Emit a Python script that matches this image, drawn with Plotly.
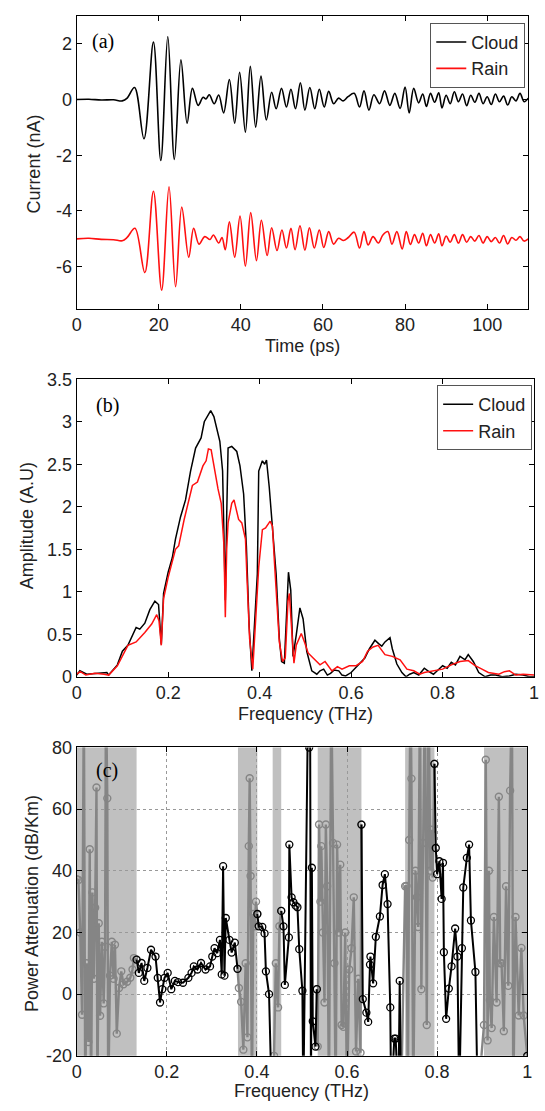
import plotly.graph_objects as go

# ---------------- Panel (a): time-domain waveforms ----------------
cloud_time_ps = [0, 3, 6, 9, 11.1, 12.3, 14.1, 16.4, 18.7, 20.5, 22.2, 23.8, 25.4, 26.9, 28.2, 29.6,
                 30.8, 31.5, 32.3, 33.5, 34.6, 35.8, 37.2, 38.5, 39.7, 41.1, 42.3, 43.6, 44.9, 46.2,
                 47.5, 48.6, 49.9, 51.1, 52.2, 53.3, 54.5, 55.6, 56.8, 58.0, 59.1, 60.3, 61.4, 62.6,
                 63.8, 64.9, 66.1, 67.6, 68.9, 70.0, 71.2, 72.4, 73.8, 75.0, 76.3, 77.5, 78.8, 80.0,
                 81.0, 82.1, 83.3, 84.3, 85.2, 86.2, 87.2, 88.2, 89.0, 90.0, 91.0, 92.0, 93.0, 94.0,
                 95.0, 96.0, 97.0, 98.0, 99.0, 100.0, 101.0, 102.0, 103.0, 104.0, 105.0, 106.0,
                 107.0, 108.0, 109.0, 110.0]
cloud_current_nA = [0.0, 0.01, -0.02, -0.01, -0.05, 0.05, 0.43, -1.41, 2.06, -2.19, 2.26, -2.15, 1.42, -0.85,
                    0.40, -0.21, 0.08, 0.02, 0.17, -0.15, 0.16, -0.48, 0.72, -0.85, 0.98, -1.17, 1.19, -0.99,
                    0.84, -0.73, 0.26, -0.33, 0.40, -0.27, 0.37, -0.33, 0.60, -0.38, 0.43, -0.33, 0.37, -0.27,
                    0.29, -0.15, 0.05, -0.05, 0.10, 0.22, -0.27, 0.31, -0.38, 0.17, -0.15, 0.31, -0.21, 0.22,
                    -0.32, 0.45, -0.48, 0.40, -0.12, 0.20, -0.25, 0.22, -0.10, 0.24, -0.30, 0.15, -0.15, 0.28,
                    -0.08, 0.20, -0.22, 0.15, -0.10, 0.22, -0.15, 0.10, -0.18, 0.20, -0.08, 0.12, -0.20, 0.10,
                    -0.05, 0.22, -0.08, 0.05]

rain_time_ps = [0, 3, 6, 9, 11.1, 12.3, 14.2, 16.6, 18.7, 20.7, 22.5, 24.1, 25.6, 27.3, 28.5, 29.8,
                31.2, 32.5, 33.3, 34.6, 35.4, 36.2, 37.2, 38.5, 39.8, 41.1, 42.4, 43.8, 45.0, 46.4,
                47.5, 48.8, 50.0, 51.1, 52.2, 53.2, 54.4, 55.6, 56.7, 57.9, 59.1, 60.2, 61.4, 62.6,
                63.8, 65.0, 66.1, 67.6, 68.9, 70.0, 71.0, 72.2, 73.5, 74.6, 75.8, 76.8, 78.0, 79.3,
                80.3, 81.3, 82.3, 83.3, 84.3, 85.2, 86.2, 87.2, 88.2, 89.0, 90.0, 91.0, 92.0, 93.0,
                94.0, 95.0, 96.0, 97.0, 98.0, 99.0, 100.0, 101.0, 102.0, 103.0, 104.0, 105.0, 106.0,
                107.0, 108.0, 109.0, 110.0]
rain_current_nA = [-5.0, -4.98, -5.02, -5.03, -5.07, -4.95, -4.62, -6.21, -3.29, -6.84, -3.13, -6.72, -3.86,
                   -5.66, -4.62, -5.19, -4.92, -5.02, -4.86, -5.15, -4.95, -5.39, -4.39, -5.66, -4.18, -5.98,
                   -4.06, -5.78, -4.33, -5.60, -4.60, -5.42, -4.68, -5.33, -4.62, -5.39, -4.53, -5.41, -4.60,
                   -5.33, -4.68, -5.31, -4.74, -5.19, -4.98, -5.06, -4.96, -4.76, -5.33, -4.74, -5.22, -4.92,
                   -5.15, -4.86, -4.74, -5.19, -4.74, -5.36, -4.74, -5.20, -4.85, -5.15, -4.80, -5.25, -4.85,
                   -5.15, -4.82, -5.25, -4.90, -5.12, -4.85, -5.15, -4.85, -5.12, -4.92, -5.08, -4.88, -5.15,
                   -4.92, -5.10, -4.95, -5.15, -4.88, -5.18, -4.95, -5.05, -4.92, -5.08, -5.0]

# ---------------- Panel (b): spectra ----------------
cloud_freq_THz = [0, 0.007, 0.022, 0.045, 0.066, 0.07, 0.089, 0.1, 0.112, 0.13, 0.138, 0.149, 0.16, 0.171,
                  0.179, 0.185, 0.19, 0.2, 0.209, 0.216, 0.227, 0.238, 0.249, 0.26, 0.272, 0.279, 0.287,
                  0.293, 0.3, 0.307, 0.313, 0.319, 0.322, 0.325, 0.328, 0.331, 0.339, 0.35, 0.357, 0.365,
                  0.371, 0.377, 0.383, 0.389, 0.395, 0.398, 0.406, 0.411, 0.415, 0.421, 0.428, 0.436, 0.443,
                  0.448, 0.454, 0.46, 0.463, 0.468, 0.473, 0.48, 0.488, 0.495, 0.503, 0.514, 0.525, 0.532,
                  0.54, 0.548, 0.555, 0.563, 0.573, 0.58, 0.588, 0.6, 0.61, 0.63, 0.64, 0.652, 0.66, 0.667,
                  0.674, 0.685, 0.69, 0.7, 0.711, 0.72, 0.728, 0.737, 0.748, 0.76, 0.77, 0.78, 0.79, 0.8,
                  0.81, 0.819, 0.828, 0.838, 0.849, 0.856, 0.867, 0.879, 0.893, 0.905, 0.916, 0.93, 0.946,
                  0.96, 0.976, 0.99, 1.0]
cloud_amplitude = [0.02, 0.07, 0.03, 0.04, 0.05, 0.02, 0.14, 0.30, 0.37, 0.58, 0.56, 0.63, 0.79, 0.89,
                   0.85, 0.38, 0.98, 1.23, 1.40, 1.62, 1.88, 2.08, 2.42, 2.69, 2.81, 3.00, 3.08,
                   3.13, 3.06, 2.92, 2.77, 2.42, 1.80, 0.90, 1.90, 2.69, 2.71, 2.65, 2.48, 2.15,
                   1.54, 0.60, 0.07, 0.60, 1.21, 2.42, 2.54, 2.50, 2.55, 2.23, 1.73, 1.21, 0.45,
                   0.18, 0.16, 0.83, 1.23, 1.02, 0.24, 0.49, 0.81, 0.68, 0.30, 0.07, 0.03, 0.07,
                   0.09, 0.02, 0.04, 0.08, 0.07, 0.02, 0.01, 0.05, 0.11, 0.22, 0.33, 0.43, 0.39, 0.36,
                   0.41, 0.46, 0.33, 0.15, 0.05, 0.0, 0.03, 0.05, 0.02, 0.10, 0.06, 0.03, 0.08, 0.13,
                   0.10, 0.17, 0.14, 0.24, 0.20, 0.26, 0.18, 0.05, 0.0, 0.02, 0.02, 0.0, 0.01,
                   0.03, 0.02, 0.0, 0.0]

rain_freq_THz = [0, 0.008, 0.02, 0.04, 0.06, 0.07, 0.089, 0.112, 0.13, 0.149, 0.164, 0.175, 0.18, 0.185,
                 0.19, 0.2, 0.216, 0.223, 0.235, 0.246, 0.253, 0.264, 0.276, 0.283, 0.288, 0.294, 0.302,
                 0.309, 0.316, 0.322, 0.325, 0.328, 0.331, 0.339, 0.344, 0.354, 0.361, 0.369, 0.372, 0.378,
                 0.385, 0.391, 0.398, 0.406, 0.413, 0.423, 0.428, 0.432, 0.436, 0.443, 0.45, 0.456, 0.462,
                 0.465, 0.469, 0.475, 0.48, 0.491, 0.498, 0.506, 0.517, 0.532, 0.543, 0.558, 0.57, 0.58,
                 0.596, 0.611, 0.625, 0.636, 0.648, 0.659, 0.674, 0.69, 0.707, 0.722, 0.737, 0.75, 0.76,
                 0.782, 0.8, 0.819, 0.838, 0.856, 0.871, 0.886, 0.9, 0.923, 0.935, 0.946, 0.96, 0.976, 1.0]
rain_amplitude = [0.03, 0.06, 0.02, 0.04, 0.03, 0.02, 0.13, 0.37, 0.41, 0.52, 0.62, 0.73, 0.66, 0.37,
                  0.92, 1.17, 1.50, 1.54, 1.85, 2.08, 2.25, 2.29, 2.48, 2.54, 2.68, 2.67, 2.42,
                  2.21, 2.04, 1.54, 0.70, 1.50, 1.81, 2.04, 2.08, 1.85, 1.81, 1.62, 1.21, 0.45,
                  0.09, 0.64, 1.29, 1.73, 1.75, 1.83, 1.77, 1.38, 1.02, 0.41, 0.18, 0.22, 0.89,
                  0.98, 0.64, 0.16, 0.37, 0.51, 0.41, 0.28, 0.22, 0.14, 0.18, 0.07, 0.12, 0.09,
                  0.13, 0.13, 0.18, 0.30, 0.35, 0.37, 0.26, 0.24, 0.20, 0.09, 0.07, 0.03, 0.05,
                  0.07, 0.09, 0.14, 0.18, 0.19, 0.13, 0.09, 0.05, 0.03, 0.06, 0.07, 0.02, 0.03, 0.02]

# ---------------- Panel (c): power attenuation ----------------
# values beyond the axis range (-35 / 100) mark traces running off the plot
atten_black_freq = [0.133, 0.138, 0.144, 0.15, 0.157, 0.165, 0.175, 0.18, 0.185, 0.19, 0.195, 0.202, 0.21,
                    0.218, 0.225, 0.236, 0.248, 0.255, 0.26, 0.268, 0.276, 0.286, 0.296, 0.301, 0.306,
                    0.312, 0.318, 0.322, 0.325, 0.328, 0.331, 0.339, 0.344, 0.351, 0.357, None,
                    0.401, 0.404, 0.412, 0.417, 0.42, 0.427, 0.433, None,
                    0.454, 0.459, 0.462, 0.471, 0.472, 0.477, 0.481, 0.486, 0.49, 0.494, 0.501, 0.503,
                    0.514, 0.516, 0.518, 0.52, 0.522, 0.524, 0.53, 0.533, None,
                    0.632, 0.635, 0.643, 0.647, 0.651, 0.652, 0.658, 0.664, 0.673, 0.679, 0.684, 0.69,
                    0.696, 0.698, 0.705, 0.708, 0.714, 0.717, 0.72, None,
                    0.794, 0.797, 0.8, 0.805, 0.81, 0.813, 0.815, 0.82, 0.826, 0.832, 0.84, 0.845, 0.849,
                    0.855, 0.858, 0.866, 0.871, 0.875, 0.885, 0.89, None, 1.0]
atten_black_dB = [11.2, 6.9, 10.1, 4.3, 8.5, 14.4, 12.2, 5.3, -2.7, 1.6, 5.3, 6.9, 1.6,
                  4.3, 3.9, 3.7, 5.3, 6.9, 9.0, 8.0, 10.1, 8.0, 9.0, 12.2, 14.9,
                  13.3, 17.6, 6.4, 41.5, 6.0, 24.7, 17.6, 13.5, 16.7, 8.2, None,
                  26.0, 22.0, 21.8, 19.7, 7.4, 0.0, -35, None,
                  27.0, 22.0, 3.0, 18.4, 48.5, 31.4, 29.8, 28.7, 28.2, 14.6, 1.1, -35,
                  100, 80, 100, -35, 41, -8.8, -17, 1.6, None,
                  55, -1.6, -6, -9, 9.6, 12.2, 3.5, 18.6, 25.2, 35.4, 38.9, 29.2,
                  -4.3, -35, -14.4, -14.4, -35, 4.3, -35, None,
                  74.7, 47.4, 38.9, 43.1, 30.9, 42.6, 13.6, -8, 1.8, 9.0, 21.3, 12.2, -35,
                  14.9, 34.6, 44.2, 48.5, 23.9, 7.2, -35, None, -20]

atten_gray_freq = [0.0, 0.004, 0.008, 0.012, 0.016, 0.019, 0.022, 0.026, 0.029, 0.032, 0.035, 0.038, 0.041,
                   0.044, 0.046, 0.049, 0.052, 0.056, 0.06, 0.063, 0.065, 0.068, 0.07, 0.074, 0.078, 0.082,
                   0.085, 0.089, 0.094, 0.099, 0.104, 0.112, 0.119, 0.124, 0.127, 0.133, None,
                   0.357, 0.36, 0.365, 0.37, 0.375, 0.379, 0.382, 0.384, 0.386, 0.389, 0.392, 0.395, 0.398,
                   0.401, None,
                   0.433, 0.438, 0.442, 0.447, 0.45, 0.454, None,
                   0.533, 0.535, 0.538, 0.541, 0.543, 0.546, 0.55, 0.553, 0.556, 0.56, 0.565, 0.569, 0.572,
                   0.575, 0.578, 0.582, 0.585, 0.588, 0.592, 0.596, 0.6, 0.605, 0.61, 0.615, 0.62, 0.625,
                   0.63, 0.632, None,
                   0.72, 0.729, 0.732, 0.735, 0.738, 0.741, 0.743, 0.747, 0.752, 0.755, 0.758, 0.762, 0.765,
                   0.769, 0.773, 0.777, 0.781, 0.785, 0.788, 0.79, 0.794, None,
                   0.89, 0.904, 0.908, 0.912, 0.915, 0.917, 0.921, 0.926, 0.932, 0.937, 0.94, 0.943, 0.948,
                   0.953, 0.958, 0.962, 0.966, 0.969, 0.974, 0.981, 0.987, 0.992, 1.0]
atten_gray_dB = [37.3, 37.0, 20, -6.7, 100, -35, 10, -15.5, 47, -35, 33, 5, 28,
                 67, -35, 23, -7, 17, -3, 15.4, 100, 63.5, -35, 6, 17, 5,
                 16, -12.8, 2, 7.4, 3.2, 4, 5.3, 8, 11.7, 11.2, None,
                 8.2, 2, -2.5, -18, 10, -14, 48, 70, 38.3, -35, 26, 22, 30,
                 26.0, None,
                 -35, -20, 10, -4.3, 22, 27, None,
                 1.6, -17, 55, 30, 48, 20, -2.7, 55, 35, -35, 100, 49, 10,
                 -35, 48.5, 20, 42, -10, -10.6, 20, -35, 8, 14.9, 31.4, -18.6, 5,
                 -19, 55, None,
                 -35, 35, 35.1, -35, 50, 100, 69.9, -35, 40, 31.4, 21.8, 100, 1.6,
                 49, 100, -10, 100, 40, 53.3, 37.8, 74.7, None,
                 -35, -10, 76, -15, 40, -2, -11, 25, -2.7, 64, 10, 10, -12,
                 35, 2.7, 66, 100, -35, 25, -6.9, 15, -6.9, -20]

shaded_bands_THz = [(0.0, 0.133), (0.358, 0.401), (0.435, 0.454), (0.535, 0.632), (0.729, 0.794), (0.904, 1.0)]

# tick labels
a_xticks = [0, 20, 40, 60, 80, 100]
a_yticks = [-6, -4, -2, 0, 2]
a_yticklabels = ["-6", "-4", "-2", "0", "2"]
f_ticks = [0, 0.2, 0.4, 0.6, 0.8, 1]
f_ticklabels = ["0", "0.2", "0.4", "0.6", "0.8", "1"]
b_yticks = [0, 0.5, 1, 1.5, 2, 2.5, 3, 3.5]
b_yticklabels = ["0", "0.5", "1", "1.5", "2", "2.5", "3", "3.5"]
c_yticks = [-20, 0, 20, 40, 60, 80]
c_yticklabels = ["-20", "0", "20", "40", "60", "80"]

W, H = 545, 1111
FONT = "Liberation Sans, Arial, sans-serif"
SERIF = "Liberation Serif, Times New Roman, serif"
RED = "#ff1010"
TXT = "#222"
FS = 18

fig = go.Figure()

fig.add_trace(go.Scatter(x=cloud_time_ps, y=cloud_current_nA, name="Cloud", mode="lines",
                         line=dict(color="black", width=1.6, shape="spline", smoothing=1.0),
                         xaxis="x", yaxis="y", legend="legend"))
fig.add_trace(go.Scatter(x=rain_time_ps, y=rain_current_nA, name="Rain", mode="lines",
                         line=dict(color=RED, width=1.6, shape="spline", smoothing=1.0),
                         xaxis="x", yaxis="y", legend="legend"))

fig.add_trace(go.Scatter(x=cloud_freq_THz, y=cloud_amplitude, name="Cloud", mode="lines",
                         line=dict(color="black", width=1.5), xaxis="x2", yaxis="y2", legend="legend2"))
fig.add_trace(go.Scatter(x=rain_freq_THz, y=rain_amplitude, name="Rain", mode="lines",
                         line=dict(color=RED, width=1.5), xaxis="x2", yaxis="y2", legend="legend2"))

fig.add_trace(go.Scatter(x=atten_gray_freq, y=atten_gray_dB, mode="lines+markers", showlegend=False,
                         line=dict(color="#858585", width=2.4),
                         marker=dict(symbol="circle-open", size=7, color="#858585", line=dict(width=1.4)),
                         xaxis="x3", yaxis="y3"))
fig.add_trace(go.Scatter(x=atten_black_freq, y=atten_black_dB, mode="lines+markers", showlegend=False,
                         line=dict(color="black", width=2),
                         marker=dict(symbol="circle-open", size=7, color="black", line=dict(width=1.3)),
                         xaxis="x3", yaxis="y3"))

shapes = []
for x0, x1 in shaded_bands_THz:
    shapes.append(dict(type="rect", xref="x3", yref="y3 domain", x0=x0, x1=x1, y0=0, y1=1,
                       fillcolor="#c0c0c0", line=dict(width=0), layer="below"))

def xd(px):
    return px / W

def yd(py):
    return 1 - py / H

axis_common = dict(showline=True, linecolor="black", linewidth=1, mirror="ticks", ticks="inside",
                   ticklen=5, tickcolor="black", showgrid=False, zeroline=False,
                   tickfont=dict(family=FONT, size=FS, color=TXT))
title_font = dict(family=FONT, size=FS, color=TXT)
legend_font = dict(family=FONT, size=FS, color=TXT)

def label(text, px, py, angle=0, font=title_font):
    return dict(text=text, x=xd(px), y=yd(py), xref="paper", yref="paper", showarrow=False,
                textangle=angle, xanchor="center", yanchor="middle", font=font)

serif_font = dict(family=SERIF, size=20, color="black")

fig.update_layout(
    width=W, height=H, margin=dict(l=0, r=0, t=0, b=0),
    paper_bgcolor="white", plot_bgcolor="white",
    font=dict(family=FONT, size=FS, color=TXT),
    shapes=shapes,
    xaxis=dict(axis_common, domain=[xd(73), xd(533)], anchor="y", range=[0, 110], tickvals=a_xticks),
    yaxis=dict(axis_common, domain=[yd(304), yd(6)], anchor="x", range=[-7.5, 3],
               tickvals=a_yticks, ticktext=a_yticklabels),
    xaxis2=dict(axis_common, domain=[xd(73), xd(539)], anchor="y2", range=[0, 1],
                tickvals=f_ticks, ticktext=f_ticklabels),
    yaxis2=dict(axis_common, domain=[yd(679), yd(376)], anchor="x2", range=[0, 3.5],
                tickvals=b_yticks, ticktext=b_yticklabels),
    xaxis3=dict(axis_common, domain=[xd(73), xd(532)], anchor="y3", range=[0, 1],
                tickvals=f_ticks, ticktext=f_ticklabels, showgrid=True, gridcolor="#999",
                griddash="dot", gridwidth=1),
    yaxis3=dict(axis_common, domain=[yd(1065), yd(751)], anchor="x3", range=[-20, 80],
                tickvals=c_yticks, ticktext=c_yticklabels, showgrid=True, gridcolor="#999",
                griddash="dot", gridwidth=1),
    legend=dict(x=xd(530), xanchor="right", y=yd(13), yanchor="top", bgcolor="white",
                bordercolor="#555", borderwidth=1, font=legend_font,
                tracegroupgap=0, itemwidth=30),
    legend2=dict(x=xd(537), xanchor="right", y=yd(382), yanchor="top", bgcolor="white",
                 bordercolor="#555", borderwidth=1, font=legend_font,
                 tracegroupgap=0, itemwidth=30),
    annotations=[
        label("(a)", 100, 32, font=serif_font),
        label("(b)", 104, 403, font=serif_font),
        label("(c)", 104, 774, font=serif_font),
        label("Time (ps)", 303, 342),
        label("Current (nA)", 30, 157, angle=-90),
        label("Frequency (THz)", 306, 717),
        label("Amplitude (A.U)", 22, 525, angle=-90),
        label("Frequency (THz)", 302, 1101),
        label("Power Attenuation (dB/Km)", 27, 910, angle=-90),
    ],
)

fig.write_html("out.html")
